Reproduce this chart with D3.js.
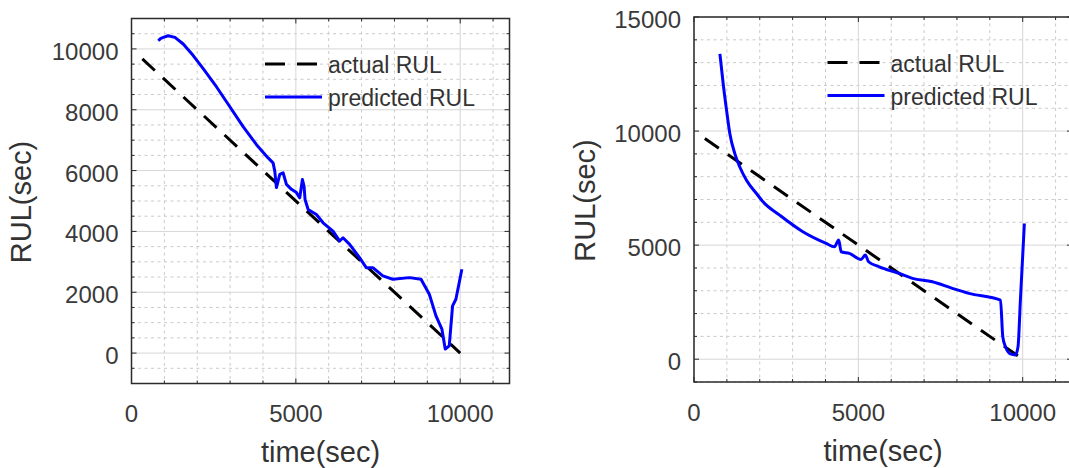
<!DOCTYPE html>
<html lang="en">
<head>
  <meta charset="UTF-8">
  <title>Actual vs predicted RUL</title>
  <style>
  body {
    margin: 0;
    background: #fff;
  }
  svg {
    display: block;
    font-family: Arial, "Liberation Sans", sans-serif;
  }
  .frame {
    fill: none;
    stroke: #2b2b2b;
    stroke-width: 1.5px;
  }
  .grid-major {
    stroke: #d6d6d6;
    stroke-width: 1px;
  }
  .grid-minor {
    stroke: #cacaca;
    stroke-width: 1px;
    stroke-dasharray: 3, 3.5;
  }
  .tick {
    stroke: #2b2b2b;
    stroke-width: 1px;
  }
  .tick-label {
    fill: #3a3a3a;
    font-size: 24px;
  }
  .axis-label {
    fill: #333;
    font-size: 29px;
  }
  .legend-text {
    fill: #333;
    font-size: 23px;
  }
  .actual {
    fill: none;
    stroke: #000;
    stroke-width: 3px;
    stroke-dasharray: 17, 11;
  }
  .predicted {
    fill: none;
    stroke: #0000ff;
    stroke-width: 3px;
    stroke-linejoin: round;
  }
  </style>
</head>
<body>
  <svg width="1069" height="468"></svg>
  <script src="https://d3js.org/d3.v7.min.js"></script>
  <script>

  // tick labels
  var timeTicks = [0, 5000, 10000];
  var leftRulTicks = [0, 2000, 4000, 6000, 8000, 10000];
  var rightRulTicks = [0, 5000, 10000, 15000];

  var legendLabels = ['actual RUL', 'predicted RUL'];

  // actual RUL (same straight line in both runs)
  var actualTime = [330, 10000];
  var actualRul = [9670, 0];

  // predicted RUL, left run
  var leftTime = [815, 880, 966, 1118, 1321, 1574, 1877, 2181, 2588, 2992, 3396, 3803, 4156, 4307,
                  4359, 4410, 4511, 4611, 4714, 4866, 5018, 5119, 5200, 5250, 5280, 5374, 5500,
                  5626, 5828, 6131, 6333, 6434, 6636, 6939, 7141, 7343, 7646, 7949, 8455, 8808,
                  9061, 9263, 9444, 9545, 9667, 9768, 9869, 10051];
  var leftRul = [10270, 10340, 10378, 10433, 10378, 10163, 9782, 9349, 8749, 8098, 7446, 6850, 6417, 6254,
                 5981, 5440, 5873, 5928, 5547, 5384, 5277, 5104, 5705, 5485, 5049, 4721, 4640,
                 4557, 4284, 4010, 3683, 3792, 3574, 3137, 2809, 2809, 2536, 2426, 2481, 2426,
                 1934, 1224, 787, 131, 240, 1552, 1770, 2754];

  // predicted RUL, right run
  var rightTime = [788, 888, 991, 1091, 1242, 1394, 1597, 1900, 2100, 2606, 3312, 4021, 4273, 4403,
                   4476, 4727, 5082, 5212, 5312, 5636, 6242, 6645, 7252, 7858, 8364, 9324, 9394,
                   9475, 9627, 9779, 9858, 9930, 10051];
  var rightRul = [13386, 12074, 10906, 9886, 9011, 8425, 7843, 7262, 6900, 6313, 5585, 5075, 4929, 5222,
                  4710, 4637, 4375, 4563, 4270, 4051, 3761, 3542, 3395, 3106, 2887, 2594, 990,
                  551, 232, 188, 551, 2594, 5949];

  var svg = d3.select('svg');

  var panels = [
    { left: 131.5, right: 509.5, top: 18.5, bottom: 383.5, yDomain: [-1000, 11000], yTicks: leftRulTicks,
      yMinor: 24, time: leftTime, rul: leftRul, yLabelX: 31, curve: d3.curveLinear },
    { left: 694, right: 1072, top: 17, bottom: 382, yDomain: [-1000, 15000], yTicks: rightRulTicks,
      yMinor: 16, time: rightTime, rul: rightRul, yLabelX: 595, curve: d3.curveMonotoneX }
  ];

  panels.forEach(function (p) {
    var x = d3.scaleLinear().domain([0, 11500]).range([p.left, p.right]);
    var y = d3.scaleLinear().domain(p.yDomain).range([p.bottom, p.top]);
    var g = svg.append('g');

    var xMinor = x.ticks(12).filter(function (d) { return timeTicks.indexOf(d) < 0; });
    var yMinor = y.ticks(p.yMinor).filter(function (d) { return p.yTicks.indexOf(d) < 0; });

    // grid
    g.selectAll('.gx-minor').data(xMinor).enter().append('line')
     .attr('class', 'grid-minor')
     .attr('x1', x).attr('x2', x)
     .attr('y1', p.top).attr('y2', p.bottom);
    g.selectAll('.gy-minor').data(yMinor).enter().append('line')
     .attr('class', 'grid-minor')
     .attr('x1', p.left).attr('x2', p.right)
     .attr('y1', y).attr('y2', y);
    g.selectAll('.gx-major').data(timeTicks).enter().append('line')
     .attr('class', 'grid-major')
     .attr('x1', x).attr('x2', x)
     .attr('y1', p.top).attr('y2', p.bottom);
    g.selectAll('.gy-major').data(p.yTicks).enter().append('line')
     .attr('class', 'grid-major')
     .attr('x1', p.left).attr('x2', p.right)
     .attr('y1', y).attr('y2', y);

    // inward ticks on all four sides
    function ticksX(vals, len) {
      vals.forEach(function (v) {
        g.append('line').attr('class', 'tick')
         .attr('x1', x(v)).attr('x2', x(v)).attr('y1', p.bottom).attr('y2', p.bottom - len);
        g.append('line').attr('class', 'tick')
         .attr('x1', x(v)).attr('x2', x(v)).attr('y1', p.top).attr('y2', p.top + len);
      });
    }
    function ticksY(vals, len) {
      vals.forEach(function (v) {
        g.append('line').attr('class', 'tick')
         .attr('x1', p.left).attr('x2', p.left + len).attr('y1', y(v)).attr('y2', y(v));
        g.append('line').attr('class', 'tick')
         .attr('x1', p.right).attr('x2', p.right - len).attr('y1', y(v)).attr('y2', y(v));
      });
    }
    ticksX(timeTicks, 5);
    ticksX(xMinor, 3);
    ticksY(p.yTicks, 5);
    ticksY(yMinor, 3);

    // lines
    var line = d3.line()
      .x(function (d) { return x(d[0]); })
      .y(function (d) { return y(d[1]); });

    g.append('path')
     .attr('class', 'actual')
     .attr('d', line(d3.zip(actualTime, actualRul)));

    // right run is a smooth decay, left one stays jagged
    g.append('path')
     .attr('class', 'predicted')
     .attr('d', line.curve(p.curve)(d3.zip(p.time, p.rul)));

    g.append('rect')
     .attr('class', 'frame')
     .attr('x', p.left).attr('y', p.top)
     .attr('width', p.right - p.left).attr('height', p.bottom - p.top);

    // tick labels
    g.selectAll('.xl').data(timeTicks).enter().append('text')
     .attr('class', 'tick-label')
     .attr('x', x)
     .attr('y', p.bottom + 38.5)
     .attr('text-anchor', 'middle')
     .text(function (d) { return d; });
    g.selectAll('.yl').data(p.yTicks).enter().append('text')
     .attr('class', 'tick-label')
     .attr('x', p.left - 13)
     .attr('y', function (d) { return y(d) + 11; })
     .attr('text-anchor', 'end')
     .text(function (d) { return d; });

    // axis labels
    g.append('text')
     .attr('class', 'axis-label')
     .attr('x', (p.left + p.right) / 2)
     .attr('y', p.bottom + 78.5)
     .attr('text-anchor', 'middle')
     .text('time(sec)');
    g.append('text')
     .attr('class', 'axis-label')
     .attr('transform', 'translate(' + p.yLabelX + ',' + ((p.top + p.bottom) / 2 + 1) + ')rotate(-90)')
     .attr('text-anchor', 'middle')
     .text('RUL(sec)');

    // legend (no box)
    var lx = p.left + 133.5;
    g.append('line')
     .attr('class', 'actual')
     .style('stroke-dasharray', '20, 12')
     .attr('x1', lx).attr('x2', lx + 52)
     .attr('y1', p.top + 45.5).attr('y2', p.top + 45.5);
    g.append('line')
     .attr('class', 'predicted')
     .attr('x1', lx).attr('x2', lx + 57)
     .attr('y1', p.top + 78.5).attr('y2', p.top + 78.5);
    g.selectAll('.lt').data(legendLabels).enter().append('text')
     .attr('class', 'legend-text')
     .attr('x', lx + 63)
     .attr('y', function (d, i) { return p.top + 54.5 + i * 33; })
     .text(function (d) { return d; });
  });
  </script>
</body>
</html>
